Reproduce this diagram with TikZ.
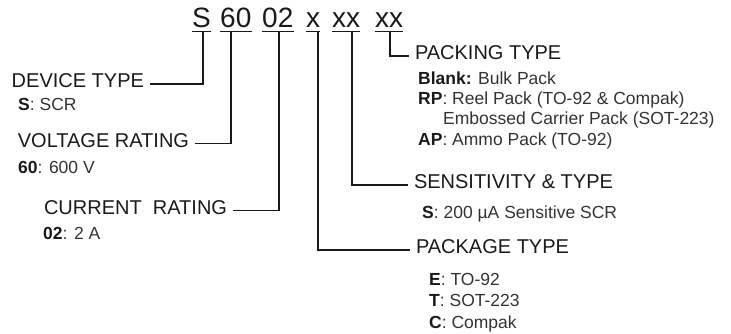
\documentclass[tikz,border=0pt]{standalone}
\usepackage{fontspec}
\setmainfont{Liberation Sans}
\usepackage{xcolor}
\usepackage{tikz}
\usetikzlibrary{arrows.meta,positioning}

\definecolor{ink}{HTML}{1A1A1A}
\definecolor{subink}{HTML}{333333}

\tikzset{
  code/.style={font=\fontsize{28}{30}\selectfont,text=ink,inner sep=0pt,
    text depth=3pt,anchor=base west},
  lbl/.style={font=\fontsize{20}{22}\selectfont,text=ink,inner ysep=0pt,
    inner xsep=0pt,outer xsep=6pt,text height=0.716em,text depth=0pt},
  sub/.style={font=\fontsize{17.5}{19}\selectfont,text=subink,inner sep=0pt,
    anchor=base west},
  wire/.style={draw=ink,line width=1.6pt},
}
\newcommand{\key}[1]{\textbf{\textcolor{ink}{#1}}}

\begin{document}
\begin{tikzpicture}[x=1pt,y=-1pt]
\useasboundingbox (0,0) rectangle (731,334);
% part number
\node[code](cS) at (192,28) {S};
\node[code](c60) at (220,28) {60};
\node[code](c02) at (262,28) {02};
\node[code](cX) at (306,28) {x};
\node[code](cXX) at (332,28) {xx};
\node[code](cPk) at (375,28) {xx};
\foreach \n in {cS,c60,c02,cX,cXX,cPk}
  \draw[wire,line width=1.2pt](\n.south west)--(\n.south east);

% left side
\node[lbl,anchor=east](dev) at (150,84) {DEVICE TYPE};
\node[sub](dev1) at (18,111) {\key{S}: SCR};
\node[lbl,anchor=east](volt) at (195,143.5) {VOLTAGE RATING};
\node[sub](volt1) at (18,174) {\key{60}: 600 V};
\node[lbl,anchor=east](curr) at (233,210.5) {CURRENT~ RATING};
\node[sub](curr1) at (43,239) {\key{02}: 2 A};

% right side
\node[lbl,anchor=west](pack) at (409,56) {PACKING TYPE};
\node[sub](pack1) at (418,85) {\key{Blank:} Bulk Pack};
\node[sub](pack2) at (418,105) {\key{RP}: Reel Pack (TO-92 \& Compak)};
\node[sub](pack3) at (443,125) {Embossed Carrier Pack (SOT-223)};
\node[sub](pack4) at (418,146) {\key{AP}: Ammo Pack (TO-92)};
\node[lbl,anchor=west](sens) at (408,185) {SENSITIVITY \& TYPE};
\node[sub](sens1) at (422,218) {\key{S}: 200 µA Sensitive SCR};
\node[lbl,anchor=west](pkg) at (410,250) {PACKAGE TYPE};
\foreach \t [count=\i] in {{\key{E}: TO-92},{\key{T}: SOT-223},{\key{C}: Compak}}
  \node[sub](pkg\i) at (429,263.5+21.5*\i) {\t};

% connectors
\draw[wire]([xshift=1.5pt]cS.south)|-(dev.east);
\draw[wire]([xshift=-4.5pt]c60.south)|-(volt.east);
\draw[wire]([xshift=1.5pt]c02.south)|-(curr.east);
\draw[wire]([xshift=5pt]cX.south)|-(pkg.west);
\draw[wire]([xshift=6pt]cXX.south)|-(sens.west);
\draw[wire]([xshift=1pt]cPk.south)|-(pack.west);
\end{tikzpicture}
\end{document}
